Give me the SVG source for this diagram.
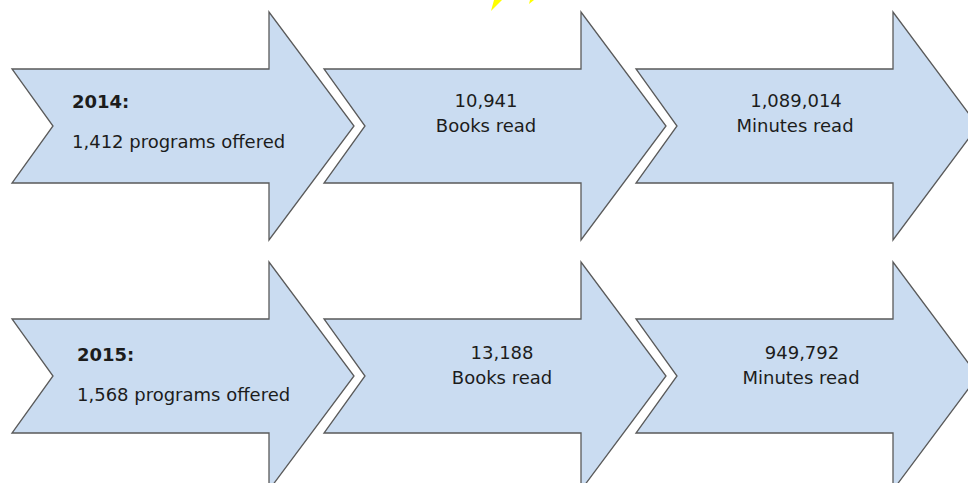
<svg xmlns="http://www.w3.org/2000/svg" xmlns:xlink="http://www.w3.org/1999/xlink" width="968" height="483" viewBox="0 0 968 483">
<style>
.arr{fill:#cadcf1;stroke:#5a5a5a;stroke-width:1.3;stroke-linejoin:miter}
.t{font-family:"DejaVu Sans",Verdana,sans-serif;font-size:18px;fill:#1c1c1c}
.b{font-weight:bold}
.c{text-anchor:middle}
.sun{fill:#ffff00}
</style>
<defs>
<path id="chev" d="M12,69 L269,69 L269,12 L354,126 L269,240 L269,183 L12,183 L53,126 Z"/>
</defs>
<rect width="968" height="483" fill="#ffffff"/>
<polygon class="sun" points="491,11 494,0 502,0"/>
<polygon class="sun" points="529,4 530,0 534,0"/>
<g id="connectors"/>
<g id="n2014">
<use xlink:href="#chev" class="arr"/>
<text class="t b" x="72" y="108">2014:</text>
<text class="t" x="72" y="148">1,412 programs offered</text>
</g>
<g id="books2014">
<use xlink:href="#chev" class="arr" transform="translate(312,0)"/>
<text class="t c" x="486" y="107">10,941</text>
<text class="t c" x="486" y="132">Books read</text>
</g>
<g id="minutes2014">
<use xlink:href="#chev" class="arr" transform="translate(624,0)"/>
<text class="t c" x="796" y="107">1,089,014</text>
<text class="t c" x="795" y="132">Minutes read</text>
</g>
<g id="n2015">
<use xlink:href="#chev" class="arr" transform="translate(0,250)"/>
<text class="t b" x="77" y="361">2015:</text>
<text class="t" x="77" y="401">1,568 programs offered</text>
</g>
<g id="books2015">
<use xlink:href="#chev" class="arr" transform="translate(312,250)"/>
<text class="t c" x="502" y="359">13,188</text>
<text class="t c" x="502" y="384">Books read</text>
</g>
<g id="minutes2015">
<use xlink:href="#chev" class="arr" transform="translate(624,250)"/>
<text class="t c" x="802" y="359">949,792</text>
<text class="t c" x="801" y="384">Minutes read</text>
</g>
</svg>
